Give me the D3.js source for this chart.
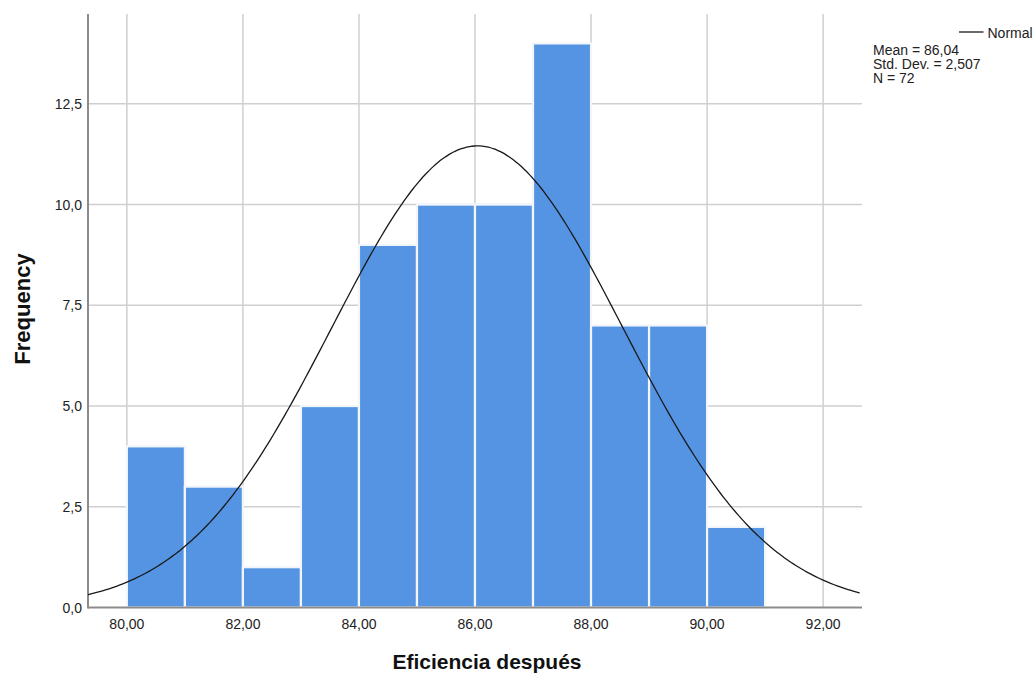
<!DOCTYPE html>
<html><head><meta charset="utf-8">
<script src="https://cdn.jsdelivr.net/npm/d3@7"></script>
<style>body{margin:0;background:#fff}svg{display:block;font-family:"Liberation Sans",Arial,sans-serif}</style>
</head><body>
<svg id="c" width="1035" height="675"></svg>
<script>
const binStarts = [80,81,82,83,84,85,86,87,88,89,90];
const counts    = [4,3,1,5,9,10,10,14,7,7,2];
const xTicks = [80,82,84,86,88,90,92];
const yTicks = [0,2.5,5,7.5,10,12.5];
const stats = {mean:86.04, sd:2.507, n:72};
const statLabels = ["Mean = 86,04","Std. Dev. = 2,507","N = 72"];

const svg = d3.select("#c");
const L=88,R=862,T=14,B=607.5;
const x = d3.scaleLinear().domain([79.33,92.67]).range([L,R]);
const y = d3.scaleLinear().domain([0,14.73]).range([B,T]);
const fmt = d3.format(".1f"), fmt2 = d3.format(".2f");
const comma = s=>s.replace(".",",");

// gridlines
svg.append("g").selectAll("line").data(xTicks).join("line")
  .attr("x1",d=>x(d)).attr("x2",d=>x(d)).attr("y1",T).attr("y2",B)
  .attr("stroke","#cfcfcf").attr("stroke-width",1.5);
svg.append("g").selectAll("line").data(yTicks.filter(d=>d>0)).join("line")
  .attr("x1",L).attr("x2",R).attr("y1",d=>y(d)).attr("y2",d=>y(d))
  .attr("stroke","#cfcfcf").attr("stroke-width",1.5);

// bars
svg.append("g").selectAll("rect").data(binStarts).join("rect")
  .attr("x",d=>x(d)).attr("width",d=>x(d+1)-x(d))
  .attr("y",(d,i)=>y(counts[i])).attr("height",(d,i)=>B-y(counts[i]))
  .attr("fill","#5594e3").attr("stroke","#f2f6fb").attr("stroke-width",2.2);

// axes lines
svg.append("line").attr("x1",L).attr("x2",L).attr("y1",T).attr("y2",B+1)
  .attr("stroke","#8c8c8c").attr("stroke-width",2);
svg.append("line").attr("x1",L).attr("x2",R).attr("y1",B).attr("y2",B)
  .attr("stroke","#8c8c8c").attr("stroke-width",2);

// normal curve
const binW = 1;
const dens = v => stats.n*binW/(stats.sd*Math.sqrt(2*Math.PI))*Math.exp(-0.5*((v-stats.mean)/stats.sd)**2);
const xs = d3.range(x.domain()[0], x.domain()[1]+0.001, 0.05);
svg.append("path").datum(xs)
  .attr("d", d3.line().x(d=>x(d)).y(d=>y(dens(d))).curve(d3.curveBasis))
  .attr("fill","none").attr("stroke","#1a1a1a").attr("stroke-width",1.3);

// tick labels
svg.append("g").selectAll("text").data(yTicks).join("text")
  .attr("x",L-6).attr("y",d=>y(d)).attr("dy","0.36em").attr("text-anchor","end")
  .attr("font-size",14).attr("fill","#222").text(d=>comma(fmt(d)));
svg.append("g").selectAll("text").data(xTicks).join("text")
  .attr("x",d=>x(d)).attr("y",629).attr("text-anchor","middle")
  .attr("font-size",14).attr("fill","#222").text(d=>comma(fmt2(d)));

// titles
svg.append("text").attr("transform","translate(30,309) rotate(-90)").attr("text-anchor","middle")
  .attr("font-size",22).attr("font-weight","bold").attr("fill","#111").text("Frequency");
svg.append("text").attr("x",487).attr("y",669).attr("text-anchor","middle")
  .attr("font-size",21).attr("font-weight","bold").attr("fill","#111").text("Eficiencia después");

// legend
svg.append("line").attr("x1",959).attr("x2",983.5).attr("y1",32).attr("y2",32)
  .attr("stroke","#1a1a1a").attr("stroke-width",1.3);
svg.append("text").attr("x",987.5).attr("y",37.5).attr("font-size",14).attr("fill","#222").text("Normal");
svg.append("g").selectAll("text").data(statLabels).join("text")
  .attr("x",873).attr("y",(d,i)=>55+i*14).attr("font-size",14).attr("fill","#222").text(d=>d);
</script>
</body></html>
